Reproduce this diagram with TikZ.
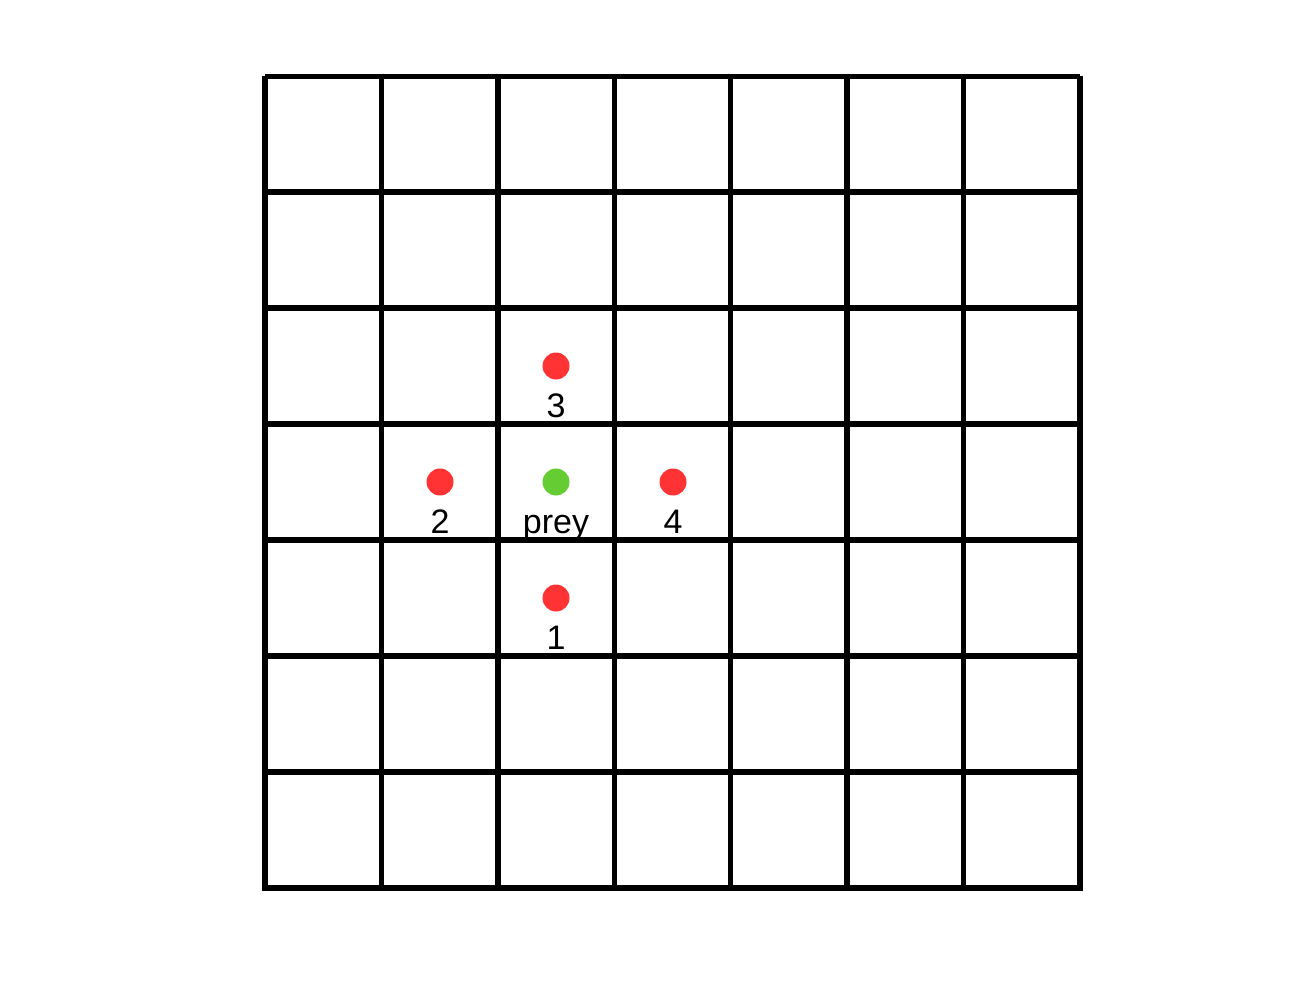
\documentclass[tikz,border=0pt]{standalone}
\usepackage{fontspec}
\setmainfont{Liberation Sans}
\definecolor{dotred}{RGB}{255,51,51}
\definecolor{dotgreen}{RGB}{102,204,51}
\begin{document}
\begin{tikzpicture}[x=1pt,y=-1pt,
  gridline/.style={line width=5.5pt,black},
  dot/.style={circle,inner sep=0pt,minimum size=27pt},
  lab/.style={anchor=base,inner sep=0pt,font=\fontsize{34}{40}\selectfont}]
\useasboundingbox (0,0) rectangle (1300,1000);
\begin{scope}
\clip (0,75) rectangle (1300,1000);
\foreach \i in {0,...,7} {
  \draw[gridline] ({265+\i*116.43},76) -- ({265+\i*116.43},888);
  \draw[gridline] (265,{76+\i*116}) -- (1080,{76+\i*116});
}
\draw[gridline,line cap=rect] (265,888) -- (1080,888);
\end{scope}
\node[dot,fill=dotgreen] (prey) at (556,482) {};
\node[dot,fill=dotred] (p1) at (556,598) {};
\node[dot,fill=dotred] (p2) at (440,482) {};
\node[dot,fill=dotred] (p3) at (556,366) {};
\node[dot,fill=dotred] (p4) at (673,482) {};
\node[lab] (lprey) at (556,533) {prey};
\node[lab] (l1) at (556,649) {1};
\node[lab] (l2) at (440,533) {2};
\node[lab] (l3) at (556,417) {3};
\node[lab] (l4) at (673,533) {4};
\end{tikzpicture}
\end{document}
